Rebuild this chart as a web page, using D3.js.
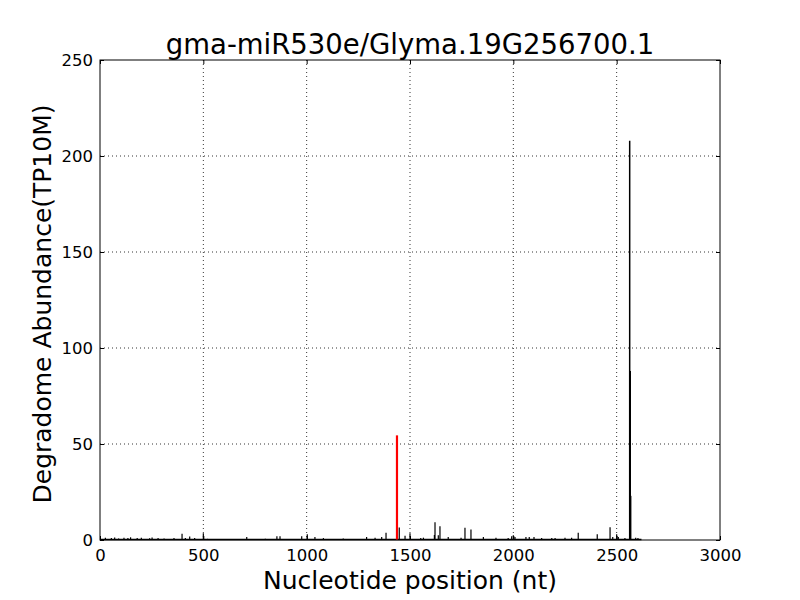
<!DOCTYPE html>
<html>
<head>
<meta charset="utf-8">
<script src="https://cdn.jsdelivr.net/npm/d3@7"></script>
<style>
  html, body { margin: 0; padding: 0; background: #fff; }
  svg { display: block; font-family: "DejaVu Sans", sans-serif; }
</style>
</head>
<body>
<svg id="chart" width="800" height="600"></svg>
<script>
const titleText = "gma-miR530e/Glyma.19G256700.1";
const xLabel = "Nucleotide position (nt)";
const yLabel = "Degradome Abundance(TP10M)";
const xTicks = [0, 500, 1000, 1500, 2000, 2500, 3000];
const yTicks = [0, 50, 100, 150, 200, 250];
const transcriptLength = 2620;

// degradome tags: position (nt) and abundance (TP10M)
const positions = [26, 55, 71, 90, 116, 135, 148, 180, 200, 240, 252, 281, 310, 358, 397, 413, 434, 458,
  500, 520, 600, 650, 710, 760, 800, 856, 871, 930, 976, 1003, 1040, 1081, 1120, 1177, 1230, 1290, 1331, 1363, 1384,
  1448, 1476, 1500, 1552, 1565, 1618, 1621, 1637, 1645, 1685, 1747, 1766, 1795, 1855, 1916,
  1975, 1992, 2000, 2008, 2061, 2077, 2100, 2137, 2186, 2202, 2250, 2282, 2314, 2406,
  2468, 2481, 2500, 2508, 2540, 2565, 2567, 2592, 2603];
const abundances = [1.2, 1.0, 1.3, 0.8, 1.2, 1.0, 1.4, 1.0, 1.2, 0.9, 1.3, 1.0, 0.8, 1.1, 3.2, 1.0, 1.8, 1.0,
  3.5, 0.6, 0.5, 0.5, 1.5, 0.5, 0.6, 2.0, 2.0, 0.5, 2.0, 3.0, 1.5, 1.0, 0.5, 0.8, 0.5, 1.5, 1.2, 1.5, 3.8,
  6.5, 2.2, 3.5, 1.0, 1.2, 2.6, 9.3, 2.5, 7.2, 1.5, 1.2, 6.4, 5.5, 1.5, 1.2,
  1.0, 2.0, 2.5, 1.5, 1.5, 1.5, 1.5, 1.0, 1.0, 1.0, 1.2, 1.2, 3.8, 3.0,
  6.6, 1.5, 3.0, 1.5, 1.0, 88, 23, 1.2, 1.0];

// highlighted tallest peak and cleavage site
const peakPosition = [2563];
const peakAbundance = [208];
const sitePosition = [1437];
const siteAbundance = [54.5];

const svg = d3.select("#chart");
const m = { left: 100, right: 720, top: 60, bottom: 540 };

const x = d3.scaleLinear().domain([0, 3000]).range([m.left, m.right]);
const y = d3.scaleLinear().domain([0, 250]).range([m.bottom, m.top]);

// grid
const grid = svg.append("g");
xTicks.slice(1, -1).forEach(t => {
  grid.append("line").attr("x1", x(t)).attr("x2", x(t)).attr("y1", m.top).attr("y2", m.bottom)
    .attr("stroke", "#000").attr("stroke-width", 0.8).attr("stroke-dasharray", "1,3");
});
yTicks.slice(1, -1).forEach(t => {
  grid.append("line").attr("x1", m.left).attr("x2", m.right).attr("y1", y(t)).attr("y2", y(t))
    .attr("stroke", "#000").attr("stroke-width", 0.8).attr("stroke-dasharray", "1,3");
});

// baseline of the profile
svg.append("line").attr("x1", x(0)).attr("x2", x(transcriptLength))
  .attr("y1", y(0) - 0.5).attr("y2", y(0) - 0.5).attr("stroke", "#000").attr("stroke-width", 1.5);

// small bars
const bars = positions.map((p, i) => ({ p, v: abundances[i] }));
svg.append("g").selectAll("line").data(bars).join("line")
  .attr("x1", d => x(d.p)).attr("x2", d => x(d.p))
  .attr("y1", y(0)).attr("y2", d => y(d.v))
  .attr("stroke", "#000").attr("stroke-width", d => d.v > 20 ? 1.8 : 1.2);

svg.append("g").selectAll("line").data(peakPosition.map((p, i) => ({ p, v: peakAbundance[i] }))).join("line")
  .attr("x1", d => x(d.p)).attr("x2", d => x(d.p))
  .attr("y1", y(0)).attr("y2", d => y(d.v))
  .attr("stroke", "#000").attr("stroke-width", 1.5);

svg.append("g").selectAll("line").data(sitePosition.map((p, i) => ({ p, v: siteAbundance[i] }))).join("line")
  .attr("x1", d => x(d.p)).attr("x2", d => x(d.p))
  .attr("y1", y(0)).attr("y2", d => y(d.v))
  .attr("stroke", "#ff0000").attr("stroke-width", 2.2);

// axes (frame + inward ticks on all sides)
const frame = svg.append("g");
frame.append("rect").attr("x", m.left).attr("y", m.top)
  .attr("width", m.right - m.left).attr("height", m.bottom - m.top)
  .attr("fill", "none").attr("stroke", "#000").attr("stroke-width", 1);

const xb = svg.append("g").attr("transform", `translate(0,${m.bottom})`)
  .call(d3.axisBottom(x).tickValues(xTicks).tickSizeInner(-4).tickSizeOuter(0).tickPadding(9).tickFormat(d3.format("d")));
const xt = svg.append("g").attr("transform", `translate(0,${m.top})`)
  .call(d3.axisTop(x).tickValues(xTicks).tickSizeInner(-4).tickSizeOuter(0).tickFormat(""));
const yl = svg.append("g").attr("transform", `translate(${m.left},0)`)
  .call(d3.axisLeft(y).tickValues(yTicks).tickSizeInner(-4).tickSizeOuter(0).tickPadding(7).tickFormat(d3.format("d")));
const yr = svg.append("g").attr("transform", `translate(${m.right},0)`)
  .call(d3.axisRight(y).tickValues(yTicks).tickSizeInner(-4).tickSizeOuter(0).tickFormat(""));
[xb, xt, yl, yr].forEach(g => {
  g.select(".domain").remove();
  g.selectAll("line").attr("stroke", "#000");
  g.selectAll("text").attr("font-family", "DejaVu Sans, sans-serif").attr("font-size", 16.5).attr("fill", "#000");
});

svg.append("text").attr("x", 410).attr("y", 54).attr("text-anchor", "middle")
  .attr("font-size", 27.5).text(titleText);
svg.append("text").attr("x", 410).attr("y", 589).attr("text-anchor", "middle")
  .attr("font-size", 25).text(xLabel);
svg.append("text").attr("transform", "translate(51,304) rotate(-90)").attr("text-anchor", "middle")
  .attr("font-size", 25).text(yLabel);
</script>
</body>
</html>
